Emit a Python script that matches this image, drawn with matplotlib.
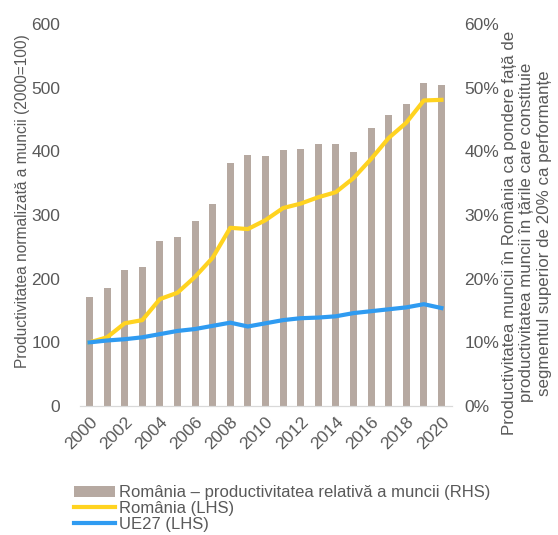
import matplotlib.pyplot as plt
import numpy as np

plt.rcParams['font.family'] = ['Liberation Sans', 'DejaVu Sans']

years = list(range(2000, 2021))
# Romania - relative labour productivity (RHS, %)
rel_prod = [17.1, 18.6, 21.3, 21.9, 25.9, 26.6, 29.0, 31.8, 38.2, 39.4, 39.2,
            40.2, 40.4, 41.2, 41.2, 39.9, 43.7, 45.7, 47.5, 50.7, 50.5]
# Romania (LHS, 2000=100)
romania = [100, 108, 130, 135, 168, 178, 203, 233, 280, 278, 292,
           311, 318, 328, 336, 358, 388, 421, 445, 480, 481]
# UE27 (LHS, 2000=100)
ue27 = [100, 103, 105, 108, 113, 118, 121, 126, 131, 125, 130,
        135, 138, 139, 141, 146, 149, 152, 155, 160, 154]

grey = '#595959'
bar_col = '#B6A9A1'
yellow = '#FFD320'
blue = '#2F9BF1'

fig = plt.figure(figsize=(5.58, 5.35), dpi=100)
ax = fig.add_axes([0.143, 0.241, 0.667, 0.714])
ax2 = ax.twinx()
ax.set_zorder(ax2.get_zorder() + 1)
ax.patch.set_visible(False)

b = ax2.bar(years, rel_prod, width=0.4, color=bar_col,
            label='România – productivitatea relativă a muncii (RHS)')
l1, = ax.plot(years, romania, color=yellow, lw=3,
              label='România (LHS)')
l2, = ax.plot(years, ue27, color=blue, lw=3, label='UE27 (LHS)')

ax.set_ylim(0, 600)
ax2.set_ylim(0, 60)
ax.set_xlim(1999.45, 2020.6)
ax.set_yticks(range(0, 601, 100))
ax2.set_yticks(range(0, 61, 10))
ax2.set_yticklabels([f'{v}%' for v in range(0, 61, 10)])
ax.set_xticks(years[::2])
ax.set_xticklabels([str(y) for y in years[::2]], rotation=45,
                   ha='right', rotation_mode='anchor')

for a in (ax, ax2):
    for s in ('top', 'left', 'right'):
        a.spines[s].set_visible(False)
    a.spines['bottom'].set_color('#d9d9d9')
    a.tick_params(length=0, labelsize=12.5, colors=grey)
ax.tick_params(axis='y', pad=14)
ax2.tick_params(axis='y', pad=9)
ax.tick_params(axis='x', pad=6)

ax.set_ylabel('Productivitatea normalizată a muncii (2000=100)',
              fontsize=11.2, color=grey)
ax.yaxis.set_label_coords(-0.135, 0.537)
fig.text(0.944, 0.565,
         'Productivitatea muncii în România ca pondere față de\n'
         'productivitatea muncii în țările care constituie\n'
         'segmentul superior de 20% ca performanțe',
         fontsize=12.2, color=grey, rotation=90, ha='center', va='center',
         multialignment='center', linespacing=1.2)

fig.legend(handles=[b, l1, l2], loc='upper left',
           bbox_to_anchor=(0.12, 0.105), frameon=False, fontsize=12,
           labelcolor=grey, handlelength=2.5, handletextpad=0.2,
           labelspacing=0.05, borderaxespad=0)

fig.savefig('out.png', dpi=100)
